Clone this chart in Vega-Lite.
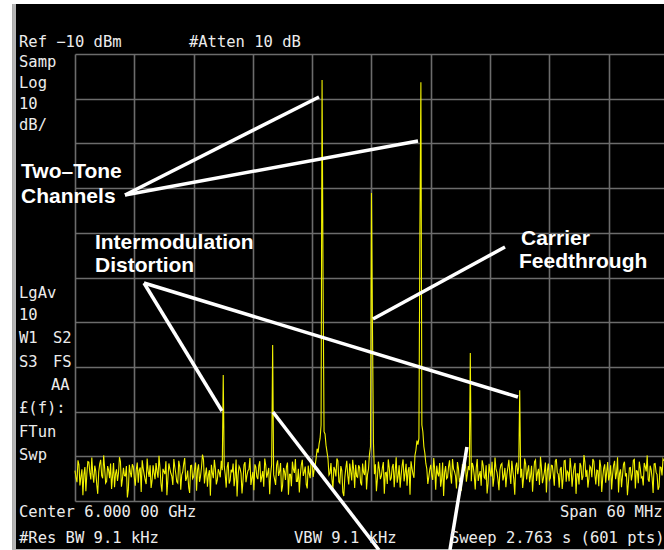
{
  "$schema": "https://vega.github.io/schema/vega-lite/v6.json",
  "width": 589,
  "height": 447,
  "autosize": "none",
  "padding": {"left": 75, "top": 54, "right": 0, "bottom": 49},
  "background": "black",
  "config": {"view": {"stroke": null}},
  "datasets": {
    "trace": [
      {"f":5970.0,"p":-103.2},{"f":5970.2,"p":-105.8},{"f":5970.4,"p":-101.9},{"f":5970.6,"p":-104.6},{"f":5970.8,"p":-108.7},{"f":5971.0,"p":-102.4},{"f":5971.2,"p":-103.9},{"f":5971.4,"p":-101.3},{"f":5971.6,"p":-105.2},{"f":5971.8,"p":-104.0},
      {"f":5972.0,"p":-102.1},{"f":5972.2,"p":-106.3},{"f":5972.4,"p":-103.5},{"f":5972.6,"p":-100.8},{"f":5972.8,"p":-104.9},{"f":5973.0,"p":-102.7},{"f":5973.2,"p":-105.6},{"f":5973.4,"p":-103.1},{"f":5973.6,"p":-101.6},{"f":5973.8,"p":-104.4},
      {"f":5974.0,"p":-106.9},{"f":5974.2,"p":-102.9},{"f":5974.4,"p":-103.8},{"f":5974.6,"p":-101.2},{"f":5974.8,"p":-105.1},{"f":5975.0,"p":-104.3},{"f":5975.2,"p":-102.2},{"f":5975.4,"p":-107.4},{"f":5975.6,"p":-103.6},{"f":5975.8,"p":-101.8},
      {"f":5976.0,"p":-104.7},{"f":5976.2,"p":-103.0},{"f":5976.4,"p":-105.9},{"f":5976.6,"p":-102.5},{"f":5976.8,"p":-100.9},{"f":5977.0,"p":-104.1},{"f":5977.2,"p":-106.2},{"f":5977.4,"p":-103.3},{"f":5977.6,"p":-102.0},{"f":5977.8,"p":-105.4},
      {"f":5978.0,"p":-103.7},{"f":5978.2,"p":-101.5},{"f":5978.4,"p":-104.8},{"f":5978.6,"p":-102.6},{"f":5978.8,"p":-107.9},{"f":5979.0,"p":-103.4},{"f":5979.2,"p":-101.1},{"f":5979.4,"p":-105.0},{"f":5979.6,"p":-102.8},{"f":5979.8,"p":-104.5},
      {"f":5980.0,"p":-100.6},{"f":5980.2,"p":-103.9},{"f":5980.4,"p":-106.0},{"f":5980.6,"p":-102.3},{"f":5980.8,"p":-104.2},{"f":5981.0,"p":-101.7},{"f":5981.2,"p":-105.5},{"f":5981.4,"p":-103.2},{"f":5981.6,"p":-108.2},{"f":5981.8,"p":-102.0},
      {"f":5982.0,"p":-104.6},{"f":5982.2,"p":-101.4},{"f":5982.4,"p":-103.0},{"f":5982.6,"p":-105.7},{"f":5982.8,"p":-102.5},{"f":5983.0,"p":-100.7},{"f":5983.2,"p":-104.0},{"f":5983.4,"p":-106.8},{"f":5983.6,"p":-103.1},{"f":5983.8,"p":-101.9},
      {"f":5984.0,"p":-104.9},{"f":5984.2,"p":-102.7},{"f":5984.4,"p":-105.3},{"f":5984.6,"p":-103.6},{"f":5984.8,"p":-101.0},{"f":5985.0,"p":-81.8},{"f":5985.2,"p":-104.1},{"f":5985.4,"p":-102.4},{"f":5985.6,"p":-106.1},{"f":5985.8,"p":-103.0},
      {"f":5986.0,"p":-101.6},{"f":5986.2,"p":-104.7},{"f":5986.4,"p":-109.0},{"f":5986.6,"p":-102.2},{"f":5986.8,"p":-103.8},{"f":5987.0,"p":-105.4},{"f":5987.2,"p":-101.3},{"f":5987.4,"p":-104.3},{"f":5987.6,"p":-102.9},{"f":5987.8,"p":-106.4},
      {"f":5988.0,"p":-103.5},{"f":5988.2,"p":-101.8},{"f":5988.4,"p":-104.6},{"f":5988.6,"p":-102.1},{"f":5988.8,"p":-105.8},{"f":5989.0,"p":-103.3},{"f":5989.2,"p":-100.5},{"f":5989.4,"p":-104.8},{"f":5989.6,"p":-102.6},{"f":5989.8,"p":-103.9},
      {"f":5990.0,"p":-75.1},{"f":5990.2,"p":-105.2},{"f":5990.4,"p":-102.0},{"f":5990.6,"p":-104.4},{"f":5990.8,"p":-101.5},{"f":5991.0,"p":-106.7},{"f":5991.2,"p":-103.4},{"f":5991.4,"p":-102.3},{"f":5991.6,"p":-108.6},{"f":5991.8,"p":-104.0},
      {"f":5992.0,"p":-101.2},{"f":5992.2,"p":-103.7},{"f":5992.4,"p":-105.6},{"f":5992.6,"p":-102.8},{"f":5992.8,"p":-104.2},{"f":5993.0,"p":-100.8},{"f":5993.2,"p":-103.5},{"f":5993.4,"p":-106.3},{"f":5993.6,"p":-102.1},{"f":5993.8,"p":-104.9},
      {"f":5994.0,"p":-101.4},{"f":5994.2,"p":-103.0},{"f":5994.4,"p":-100.4},{"f":5994.6,"p":-99.2},{"f":5994.8,"p":-96.0},{"f":5995.0,"p":-15.8},{"f":5995.2,"p":-94.5},{"f":5995.4,"p":-97.5},{"f":5995.6,"p":-100.6},{"f":5995.8,"p":-103.8},
      {"f":5996.0,"p":-105.1},{"f":5996.2,"p":-102.4},{"f":5996.4,"p":-104.5},{"f":5996.6,"p":-101.0},{"f":5996.8,"p":-106.0},{"f":5997.0,"p":-103.2},{"f":5997.2,"p":-108.9},{"f":5997.4,"p":-102.7},{"f":5997.6,"p":-104.3},{"f":5997.8,"p":-101.6},
      {"f":5998.0,"p":-105.4},{"f":5998.2,"p":-103.0},{"f":5998.4,"p":-101.9},{"f":5998.6,"p":-104.7},{"f":5998.8,"p":-102.5},{"f":5999.0,"p":-106.5},{"f":5999.2,"p":-103.6},{"f":5999.4,"p":-100.9},{"f":5999.6,"p":-104.1},{"f":5999.8,"p":-99.5},
      {"f":6000.0,"p":-41.1},{"f":6000.2,"p":-97.0},{"f":6000.4,"p":-101.8},{"f":6000.6,"p":-105.0},{"f":6000.8,"p":-102.9},{"f":6001.0,"p":-104.4},{"f":6001.2,"p":-101.3},{"f":6001.4,"p":-103.7},{"f":6001.6,"p":-106.2},{"f":6001.8,"p":-102.6},
      {"f":6002.0,"p":-104.8},{"f":6002.2,"p":-101.7},{"f":6002.4,"p":-103.3},{"f":6002.6,"p":-105.9},{"f":6002.8,"p":-102.0},{"f":6003.0,"p":-104.2},{"f":6003.2,"p":-100.7},{"f":6003.4,"p":-103.8},{"f":6003.6,"p":-106.6},{"f":6003.8,"p":-102.4},
      {"f":6004.0,"p":-101.1},{"f":6004.2,"p":-104.0},{"f":6004.4,"p":-99.8},{"f":6004.6,"p":-96.5},{"f":6004.8,"p":-96.0},{"f":6005.0,"p":-16.3},{"f":6005.2,"p":-94.5},{"f":6005.4,"p":-99.3},{"f":6005.6,"p":-102.8},{"f":6005.8,"p":-104.6},
      {"f":6006.0,"p":-101.9},{"f":6006.2,"p":-105.3},{"f":6006.4,"p":-103.0},{"f":6006.6,"p":-102.1},{"f":6006.8,"p":-104.5},{"f":6007.0,"p":-106.8},{"f":6007.2,"p":-101.4},{"f":6007.4,"p":-103.6},{"f":6007.6,"p":-105.0},{"f":6007.8,"p":-102.3},
      {"f":6008.0,"p":-104.1},{"f":6008.2,"p":-100.6},{"f":6008.4,"p":-103.4},{"f":6008.6,"p":-107.2},{"f":6008.8,"p":-102.7},{"f":6009.0,"p":-104.9},{"f":6009.2,"p":-101.8},{"f":6009.4,"p":-103.1},{"f":6009.6,"p":-105.7},{"f":6009.8,"p":-102.2},
      {"f":6010.0,"p":-76.9},{"f":6010.2,"p":-101.5},{"f":6010.4,"p":-104.3},{"f":6010.6,"p":-102.6},{"f":6010.8,"p":-105.5},{"f":6011.0,"p":-103.3},{"f":6011.2,"p":-100.9},{"f":6011.4,"p":-104.7},{"f":6011.6,"p":-102.0},{"f":6011.8,"p":-106.1},
      {"f":6012.0,"p":-103.5},{"f":6012.2,"p":-101.2},{"f":6012.4,"p":-104.8},{"f":6012.6,"p":-102.9},{"f":6012.8,"p":-105.2},{"f":6013.0,"p":-103.0},{"f":6013.2,"p":-101.6},{"f":6013.4,"p":-104.4},{"f":6013.6,"p":-106.9},{"f":6013.8,"p":-102.5},
      {"f":6014.0,"p":-103.9},{"f":6014.2,"p":-101.0},{"f":6014.4,"p":-105.1},{"f":6014.6,"p":-102.3},{"f":6014.8,"p":-104.0},{"f":6015.0,"p":-85.2},{"f":6015.2,"p":-102.8},{"f":6015.4,"p":-104.6},{"f":6015.6,"p":-101.7},{"f":6015.8,"p":-103.4},
      {"f":6016.0,"p":-105.8},{"f":6016.2,"p":-102.1},{"f":6016.4,"p":-104.2},{"f":6016.6,"p":-100.8},{"f":6016.8,"p":-103.7},{"f":6017.0,"p":-106.4},{"f":6017.2,"p":-102.6},{"f":6017.4,"p":-104.9},{"f":6017.6,"p":-101.4},{"f":6017.8,"p":-103.2},
      {"f":6018.0,"p":-105.3},{"f":6018.2,"p":-102.0},{"f":6018.4,"p":-104.1},{"f":6018.6,"p":-101.1},{"f":6018.8,"p":-103.6},{"f":6019.0,"p":-107.0},{"f":6019.2,"p":-102.4},{"f":6019.4,"p":-104.7},{"f":6019.6,"p":-100.9},{"f":6019.8,"p":-103.3},
      {"f":6020.0,"p":-105.6},{"f":6020.2,"p":-102.8},{"f":6020.4,"p":-104.3},{"f":6020.6,"p":-101.5},{"f":6020.8,"p":-103.9},{"f":6021.0,"p":-106.3},{"f":6021.2,"p":-102.2},{"f":6021.4,"p":-104.5},{"f":6021.6,"p":-101.3},{"f":6021.8,"p":-103.0},
      {"f":6022.0,"p":-105.0},{"f":6022.2,"p":-102.6},{"f":6022.4,"p":-100.6},{"f":6022.6,"p":-104.0},{"f":6022.8,"p":-103.1},{"f":6023.0,"p":-106.7},{"f":6023.2,"p":-102.3},{"f":6023.4,"p":-104.8},{"f":6023.6,"p":-101.8},{"f":6023.8,"p":-103.5},
      {"f":6024.0,"p":-105.4},{"f":6024.2,"p":-102.0},{"f":6024.4,"p":-104.2},{"f":6024.6,"p":-101.0},{"f":6024.8,"p":-103.7},{"f":6025.0,"p":-108.1},{"f":6025.2,"p":-102.9},{"f":6025.4,"p":-104.4},{"f":6025.6,"p":-101.2},{"f":6025.8,"p":-103.8},
      {"f":6026.0,"p":-105.9},{"f":6026.2,"p":-102.5},{"f":6026.4,"p":-104.0},{"f":6026.6,"p":-100.7},{"f":6026.8,"p":-103.2},{"f":6027.0,"p":-106.0},{"f":6027.2,"p":-102.7},{"f":6027.4,"p":-104.6},{"f":6027.6,"p":-101.5},{"f":6027.8,"p":-103.4},
      {"f":6028.0,"p":-105.2},{"f":6028.2,"p":-102.1},{"f":6028.4,"p":-104.9},{"f":6028.6,"p":-101.7},{"f":6028.8,"p":-103.6},{"f":6029.0,"p":-107.5},{"f":6029.2,"p":-102.4},{"f":6029.4,"p":-104.3},{"f":6029.6,"p":-101.0},
      {"f":5970.1,"p":-104.8},{"f":5970.3,"p":-100.9},{"f":5970.5,"p":-106.5},{"f":5970.7,"p":-102.9},{"f":5970.9,"p":-104.1},{"f":5971.1,"p":-107.8},{"f":5971.3,"p":-101.2},{"f":5971.5,"p":-103.6},{"f":5971.7,"p":-100.3},{"f":5971.9,"p":-105.9},
      {"f":5972.1,"p":-103.3},{"f":5972.3,"p":-108.4},{"f":5972.5,"p":-101.7},{"f":5972.7,"p":-104.3},{"f":5972.9,"p":-99.8},{"f":5973.1,"p":-106.0},{"f":5973.3,"p":-102.2},{"f":5973.5,"p":-104.9},{"f":5973.7,"p":-107.3},{"f":5973.9,"p":-101.5},
      {"f":5974.1,"p":-103.9},{"f":5974.3,"p":-105.5},{"f":5974.5,"p":-100.2},{"f":5974.7,"p":-106.8},{"f":5974.9,"p":-102.6},{"f":5975.1,"p":-104.4},{"f":5975.3,"p":-109.2},{"f":5975.5,"p":-101.9},{"f":5975.7,"p":-104.7},{"f":5975.9,"p":-102.3},
      {"f":5976.1,"p":-106.6},{"f":5976.3,"p":-101.4},{"f":5976.5,"p":-103.1},{"f":5976.7,"p":-108.0},{"f":5976.9,"p":-102.7},{"f":5977.1,"p":-105.3},{"f":5977.3,"p":-100.5},{"f":5977.5,"p":-104.6},{"f":5977.7,"p":-107.1},{"f":5977.9,"p":-102.0},
      {"f":5978.1,"p":-105.1},{"f":5978.3,"p":-103.4},{"f":5978.5,"p":-99.9},{"f":5978.7,"p":-106.2},{"f":5978.9,"p":-102.8},{"f":5979.1,"p":-104.0},{"f":5979.3,"p":-108.7},{"f":5979.5,"p":-101.6},{"f":5979.7,"p":-103.8},{"f":5979.9,"p":-106.4},
      {"f":5980.1,"p":-102.4},{"f":5980.3,"p":-105.7},{"f":5980.5,"p":-101.0},{"f":5980.7,"p":-107.5},{"f":5980.9,"p":-103.5},{"f":5981.1,"p":-100.4},{"f":5981.3,"p":-104.8},{"f":5981.5,"p":-106.9},{"f":5981.7,"p":-102.1},{"f":5981.9,"p":-105.0},
      {"f":5982.1,"p":-103.0},{"f":5982.3,"p":-107.7},{"f":5982.5,"p":-101.8},{"f":5982.7,"p":-104.5},{"f":5982.9,"p":-99.6},{"f":5983.1,"p":-106.1},{"f":5983.3,"p":-102.5},{"f":5983.5,"p":-104.2},{"f":5983.7,"p":-108.8},{"f":5983.9,"p":-103.7},
      {"f":5984.1,"p":-100.8},{"f":5984.3,"p":-106.3},{"f":5984.5,"p":-102.9},{"f":5984.7,"p":-104.7},{"f":5984.9,"p":-103.1},{"f":5985.1,"p":-102.2},{"f":5985.3,"p":-107.0},{"f":5985.5,"p":-101.3},{"f":5985.7,"p":-105.4},{"f":5985.9,"p":-103.6},
      {"f":5986.1,"p":-106.7},{"f":5986.3,"p":-100.7},{"f":5986.5,"p":-104.3},{"f":5986.7,"p":-102.7},{"f":5986.9,"p":-108.3},{"f":5987.1,"p":-101.9},{"f":5987.3,"p":-105.8},{"f":5987.5,"p":-103.2},{"f":5987.7,"p":-100.4},{"f":5987.9,"p":-104.9},
      {"f":5988.1,"p":-107.6},{"f":5988.3,"p":-102.4},{"f":5988.5,"p":-105.1},{"f":5988.7,"p":-101.1},{"f":5988.9,"p":-104.6},{"f":5989.1,"p":-106.8},{"f":5989.3,"p":-102.0},{"f":5989.5,"p":-103.8},{"f":5989.7,"p":-108.5},{"f":5989.9,"p":-101.8},
      {"f":5990.1,"p":-104.1},{"f":5990.3,"p":-106.4},{"f":5990.5,"p":-100.9},{"f":5990.7,"p":-103.5},{"f":5990.9,"p":-107.9},{"f":5991.1,"p":-102.6},{"f":5991.3,"p":-105.3},{"f":5991.5,"p":-101.4},{"f":5991.7,"p":-104.0},{"f":5991.9,"p":-106.7},
      {"f":5992.1,"p":-102.9},{"f":5992.3,"p":-100.6},{"f":5992.5,"p":-105.6},{"f":5992.7,"p":-108.1},{"f":5992.9,"p":-101.9},{"f":5993.1,"p":-104.4},{"f":5993.3,"p":-102.3},{"f":5993.5,"p":-107.2},{"f":5993.7,"p":-103.9},{"f":5993.9,"p":-100.7},
      {"f":5994.1,"p":-104.6},{"f":5994.3,"p":-102.1},{"f":5994.5,"p":-98.3},{"f":5994.7,"p":-97.2},{"f":5994.9,"p":-93.0},{"f":5995.1,"p":-60.0},{"f":5995.3,"p":-95.0},{"f":5995.5,"p":-99.0},{"f":5995.7,"p":-104.2},{"f":5995.9,"p":-101.5},
      {"f":5996.1,"p":-107.3},{"f":5996.3,"p":-103.0},{"f":5996.5,"p":-100.5},{"f":5996.7,"p":-105.7},{"f":5996.9,"p":-102.2},{"f":5997.1,"p":-108.0},{"f":5997.3,"p":-104.8},{"f":5997.5,"p":-101.0},{"f":5997.7,"p":-106.3},{"f":5997.9,"p":-103.4},
      {"f":5998.1,"p":-100.8},{"f":5998.3,"p":-107.1},{"f":5998.5,"p":-104.5},{"f":5998.7,"p":-102.0},{"f":5998.9,"p":-105.9},{"f":5999.1,"p":-101.6},{"f":5999.3,"p":-104.2},{"f":5999.5,"p":-107.4},{"f":5999.7,"p":-102.8},{"f":5999.9,"p":-97.8},
      {"f":6000.1,"p":-71.0},{"f":6000.3,"p":-104.0},{"f":6000.5,"p":-107.8},{"f":6000.7,"p":-101.2},{"f":6000.9,"p":-105.1},{"f":6001.1,"p":-102.6},{"f":6001.3,"p":-108.4},{"f":6001.5,"p":-103.6},{"f":6001.7,"p":-100.7},{"f":6001.9,"p":-105.4},
      {"f":6002.1,"p":-102.4},{"f":6002.3,"p":-106.9},{"f":6002.5,"p":-100.2},{"f":6002.7,"p":-104.4},{"f":6002.9,"p":-107.0},{"f":6003.1,"p":-102.1},{"f":6003.3,"p":-105.6},{"f":6003.5,"p":-101.7},{"f":6003.7,"p":-103.3},{"f":6003.9,"p":-108.6},
      {"f":6004.1,"p":-102.7},{"f":6004.3,"p":-104.8},{"f":6004.5,"p":-98.6},{"f":6004.7,"p":-97.4},{"f":6004.9,"p":-50.0},{"f":6005.1,"p":-93.0},{"f":6005.3,"p":-97.8},{"f":6005.5,"p":-101.6},{"f":6005.7,"p":-106.2},{"f":6005.9,"p":-102.9},
      {"f":6006.1,"p":-104.3},{"f":6006.3,"p":-100.4},{"f":6006.5,"p":-107.5},{"f":6006.7,"p":-103.8},{"f":6006.9,"p":-101.5},{"f":6007.1,"p":-105.2},{"f":6007.3,"p":-108.9},{"f":6007.5,"p":-102.2},{"f":6007.7,"p":-104.7},{"f":6007.9,"p":-100.9},
      {"f":6008.1,"p":-106.1},{"f":6008.3,"p":-102.8},{"f":6008.5,"p":-104.4},{"f":6008.7,"p":-101.3},{"f":6008.9,"p":-105.8},{"f":6009.1,"p":-107.7},{"f":6009.3,"p":-103.4},{"f":6009.5,"p":-100.8},{"f":6009.7,"p":-104.0},{"f":6009.9,"p":-103.1},
      {"f":6010.1,"p":-105.6},{"f":6010.3,"p":-102.3},{"f":6010.5,"p":-107.4},{"f":6010.7,"p":-100.6},{"f":6010.9,"p":-104.2},{"f":6011.1,"p":-106.6},{"f":6011.3,"p":-102.0},{"f":6011.5,"p":-105.0},{"f":6011.7,"p":-108.3},{"f":6011.9,"p":-101.7},
      {"f":6012.1,"p":-104.5},{"f":6012.3,"p":-106.8},{"f":6012.5,"p":-100.3},{"f":6012.7,"p":-103.6},{"f":6012.9,"p":-107.6},{"f":6013.1,"p":-101.9},{"f":6013.3,"p":-105.4},{"f":6013.5,"p":-102.6},{"f":6013.7,"p":-104.1},{"f":6013.9,"p":-100.8},
      {"f":6014.1,"p":-106.2},{"f":6014.3,"p":-103.2},{"f":6014.5,"p":-108.6},{"f":6014.7,"p":-101.4},{"f":6014.9,"p":-102.4},{"f":6015.1,"p":-104.8},{"f":6015.3,"p":-107.1},{"f":6015.5,"p":-100.5},{"f":6015.7,"p":-105.2},{"f":6015.9,"p":-102.0},
      {"f":6016.1,"p":-104.4},{"f":6016.3,"p":-107.9},{"f":6016.5,"p":-101.2},{"f":6016.7,"p":-105.5},{"f":6016.9,"p":-102.8},{"f":6017.1,"p":-100.1},{"f":6017.3,"p":-106.0},{"f":6017.5,"p":-103.5},{"f":6017.7,"p":-108.1},{"f":6017.9,"p":-101.6},
      {"f":6018.1,"p":-104.9},{"f":6018.3,"p":-102.1},{"f":6018.5,"p":-106.6},{"f":6018.7,"p":-100.6},{"f":6018.9,"p":-104.0},{"f":6019.1,"p":-102.9},{"f":6019.3,"p":-107.3},{"f":6019.5,"p":-101.0},{"f":6019.7,"p":-105.7},{"f":6019.9,"p":-103.6},
      {"f":6020.1,"p":-100.4},{"f":6020.3,"p":-106.8},{"f":6020.5,"p":-102.4},{"f":6020.7,"p":-108.4},{"f":6020.9,"p":-103.9},{"f":6021.1,"p":-101.5},{"f":6021.3,"p":-105.3},{"f":6021.5,"p":-99.7},{"f":6021.7,"p":-104.6},{"f":6021.9,"p":-107.0},
      {"f":6022.1,"p":-102.2},{"f":6022.3,"p":-104.7},{"f":6022.5,"p":-101.1},{"f":6022.7,"p":-106.3},{"f":6022.9,"p":-103.2},{"f":6023.1,"p":-100.8},{"f":6023.3,"p":-108.0},{"f":6023.5,"p":-102.7},{"f":6023.7,"p":-105.9},{"f":6023.9,"p":-101.3},
      {"f":6024.1,"p":-104.3},{"f":6024.3,"p":-107.4},{"f":6024.5,"p":-102.0},{"f":6024.7,"p":-105.1},{"f":6024.9,"p":-100.2},{"f":6025.1,"p":-103.8},{"f":6025.3,"p":-106.9},{"f":6025.5,"p":-101.8},{"f":6025.7,"p":-104.5},{"f":6025.9,"p":-108.7},
      {"f":6026.1,"p":-102.6},{"f":6026.3,"p":-105.4},{"f":6026.5,"p":-100.9},{"f":6026.7,"p":-107.2},{"f":6026.9,"p":-103.3},{"f":6027.1,"p":-101.2},{"f":6027.3,"p":-104.8},{"f":6027.5,"p":-106.5},{"f":6027.7,"p":-102.3},{"f":6027.9,"p":-99.8},
      {"f":6028.1,"p":-105.7},{"f":6028.3,"p":-103.0},{"f":6028.5,"p":-108.2},{"f":6028.7,"p":-101.6},{"f":6028.9,"p":-104.1},{"f":6029.1,"p":-106.8},{"f":6029.3,"p":-102.5},{"f":6029.5,"p":-100.6}
    ],
    "whiteStrips": [
      {"x": 5960, "x2": 5963.63, "y": 5, "y2": -125},
      {"x": 5960, "x2": 6035, "y": 5, "y2": 1.19}
    ],
    "greyStrips": [
      {"x": 5963.63, "x2": 5964.03, "y": 1.19, "y2": -125},
      {"x": 5963.63, "x2": 6035, "y": -120.74, "y2": -125}
    ],
    "arrows": [
      {"x": 5975.06, "y": -41.54, "x2": 5994.69, "y2": -19.62},
      {"x": 5975.06, "y": -41.54, "x2": 6004.71, "y2": -29.46},
      {"x": 5976.98, "y": -61.23, "x2": 5984.87, "y2": -89.87},
      {"x": 5976.98, "y": -61.23, "x2": 6014.82, "y2": -86.73},
      {"x": 6000.15, "y": -69.28, "x2": 6013.51, "y2": -53.18},
      {"x": 5990.03, "y": -90.09, "x2": 6000.76, "y2": -120.96},
      {"x": 6009.66, "y": -97.92, "x2": 6007.94, "y2": -120.96}
    ],
    "monoLabels": [
      {"t": "Ref −10 dBm", "x": 5964.33, "y": -8.43},
      {"t": "#Atten 10 dB", "x": 5981.53, "y": -8.43},
      {"t": "Samp", "x": 5964.33, "y": -12.91},
      {"t": "Log", "x": 5964.33, "y": -17.61},
      {"t": "10", "x": 5964.33, "y": -22.3},
      {"t": "dB/", "x": 5964.33, "y": -27.0},
      {"t": "LgAv", "x": 5964.33, "y": -64.59},
      {"t": "10", "x": 5964.33, "y": -69.51},
      {"t": "W1", "x": 5964.33, "y": -74.65},
      {"t": "S2", "x": 5967.77, "y": -74.65},
      {"t": "S3", "x": 5964.33, "y": -80.02},
      {"t": "FS", "x": 5967.77, "y": -80.02},
      {"t": "AA", "x": 5967.57, "y": -85.17},
      {"t": "£(f):", "x": 5964.33, "y": -90.31},
      {"t": "FTun", "x": 5964.33, "y": -95.68},
      {"t": "Swp", "x": 5964.33, "y": -100.83},
      {"t": "Center 6.000 00 GHz", "x": 5964.33, "y": -113.58},
      {"t": "Span 60 MHz", "x": 6019.07, "y": -113.58},
      {"t": "#Res BW 9.1 kHz", "x": 5964.33, "y": -119.4},
      {"t": "VBW 9.1 kHz", "x": 5992.16, "y": -119.4},
      {"t": "Sweep 2.763 s (601 pts)", "x": 6007.94, "y": -119.4}
    ],
    "boldLabels": [
      {"t": "Two–Tone", "x": 5964.54, "y": -37.74},
      {"t": "Channels", "x": 5964.54, "y": -43.33},
      {"t": "Intermodulation", "x": 5972.02, "y": -53.62},
      {"t": "Distortion", "x": 5972.02, "y": -58.77},
      {"t": "Carrier", "x": 6015.13, "y": -52.73},
      {"t": "Feedthrough", "x": 6014.93, "y": -57.87}
    ]
  },
  "layer": [
    {
      "data": {"name": "trace"},
      "mark": {"type": "line", "color": "#f2f200", "strokeWidth": 1.1, "interpolate": "linear"},
      "encoding": {
        "x": {"field": "f", "type": "quantitative", "title": null, "scale": {"domain": [5970, 6029.6], "nice": false, "zero": false},
          "axis": {"values": [5970, 5976, 5982, 5988, 5994, 6000, 6006, 6012, 6018, 6024], "grid": true, "gridColor": "#6c6c6c", "gridWidth": 1.6, "gridOpacity": 1, "labels": false, "ticks": false, "domain": false, "title": null}},
        "y": {"field": "p", "type": "quantitative", "title": null, "scale": {"domain": [-110, -10], "nice": false, "zero": false},
          "axis": {"values": [-110, -100, -90, -80, -70, -60, -50, -40, -30, -20, -10], "grid": true, "gridColor": "#6c6c6c", "gridWidth": 1.6, "gridOpacity": 1, "labels": false, "ticks": false, "domain": false, "title": null}}
      }
    },
    {
      "data": {"name": "whiteStrips"},
      "mark": {"type": "rect", "color": "white"},
      "encoding": {
        "x": {"field": "x", "type": "quantitative", "title": null},
        "x2": {"field": "x2"},
        "y": {"field": "y", "type": "quantitative", "title": null},
        "y2": {"field": "y2"}
      }
    },
    {
      "data": {"name": "greyStrips"},
      "mark": {"type": "rect", "color": "#b4b4b4"},
      "encoding": {
        "x": {"field": "x", "type": "quantitative", "title": null},
        "x2": {"field": "x2"},
        "y": {"field": "y", "type": "quantitative", "title": null},
        "y2": {"field": "y2"}
      }
    },
    {
      "data": {"name": "arrows"},
      "mark": {"type": "rule", "color": "white", "strokeWidth": 3.5},
      "encoding": {
        "x": {"field": "x", "type": "quantitative", "title": null},
        "x2": {"field": "x2"},
        "y": {"field": "y", "type": "quantitative", "title": null},
        "y2": {"field": "y2"}
      }
    },
    {
      "data": {"name": "monoLabels"},
      "mark": {"type": "text", "color": "#ececec", "font": "DejaVu Sans Mono", "fontSize": 15.5, "align": "left", "baseline": "alphabetic"},
      "encoding": {
        "x": {"field": "x", "type": "quantitative", "title": null},
        "y": {"field": "y", "type": "quantitative", "title": null},
        "text": {"field": "t"}
      }
    },
    {
      "data": {"name": "boldLabels"},
      "mark": {"type": "text", "color": "white", "font": "Liberation Sans", "fontWeight": "bold", "fontSize": 21, "align": "left", "baseline": "alphabetic"},
      "encoding": {
        "x": {"field": "x", "type": "quantitative", "title": null},
        "y": {"field": "y", "type": "quantitative", "title": null},
        "text": {"field": "t"}
      }
    }
  ]
}
